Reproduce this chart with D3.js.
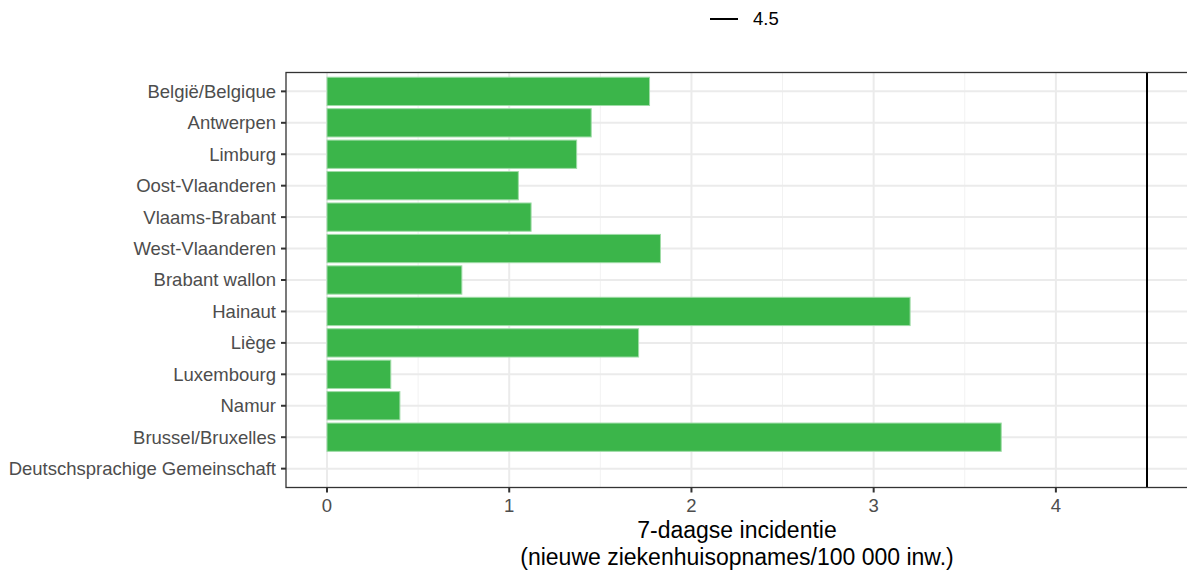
<!DOCTYPE html>
<html>
<head>
<meta charset="utf-8">
<script src="https://cdn.jsdelivr.net/npm/d3@7"></script>
<style>
  body { margin: 0; background: #fff; }
  svg { font-family: "Liberation Sans", Arial, sans-serif; }
</style>
</head>
<body>
<div id="chart"></div>
<script>
// regions, top to bottom
var regions = [
  "België/Belgique", "Antwerpen", "Limburg", "Oost-Vlaanderen", "Vlaams-Brabant",
  "West-Vlaanderen", "Brabant wallon", "Hainaut", "Liège", "Luxembourg",
  "Namur", "Brussel/Bruxelles", "Deutschsprachige Gemeinschaft"
];
// 7-day incidence per region
var incidence = [1.77, 1.45, 1.37, 1.05, 1.12, 1.83, 0.74, 3.20, 1.71, 0.35, 0.40, 3.70, 0];
var xTicks = [0, 1, 2, 3, 4];
var threshold = 4.5;

var W = 1187, H = 571;
var margin = {top: 72.5, right: -1, bottom: 83.5, left: 286};
var width = W - margin.left - margin.right,
    height = H - margin.top - margin.bottom;

var svg = d3.select("#chart").append("svg")
  .attr("width", W)
  .attr("height", H);

var g = svg.append("g")
  .attr("transform", "translate(" + margin.left + "," + margin.top + ")");

// ggplot-style expansion: 5% on continuous, 0.6 on discrete
var xMax = threshold;
var x = d3.scaleLinear()
  .domain([-0.05 * xMax, xMax * 1.05])
  .range([0, width]);

var step = height / (regions.length - 1 + 1.2);
var yc = function(d) { return (regions.indexOf(d) + 0.6) * step; };

// minor grid
var minor = d3.range(-0.5, xMax + 0.5, 0.5).filter(function(v) { return v % 1 !== 0 && x(v) > 0 && x(v) < width; });
g.selectAll(".minor").data(minor).enter().append("line")
  .attr("x1", x).attr("x2", x)
  .attr("y1", 0).attr("y2", height)
  .attr("stroke", "#f2f2f2").attr("stroke-width", 1);

// major grid
g.selectAll(".vmajor").data(xTicks).enter().append("line")
  .attr("x1", x).attr("x2", x)
  .attr("y1", 0).attr("y2", height)
  .attr("stroke", "#ebebeb").attr("stroke-width", 2);

g.selectAll(".hmajor").data(regions).enter().append("line")
  .attr("x1", 0).attr("x2", width)
  .attr("y1", yc).attr("y2", yc)
  .attr("stroke", "#ebebeb").attr("stroke-width", 2);

// bars
var barH = step * 0.9;
g.selectAll(".bar").data(regions).enter().append("rect")
  .attr("x", x(0))
  .attr("y", function(d) { return yc(d) - barH / 2; })
  .attr("width", function(d, i) { return x(incidence[i]) - x(0); })
  .attr("height", barH)
  .attr("fill", "#3bb54a")
  .attr("stroke", "#9fdca7")
  .attr("stroke-width", 1);

// threshold line
g.append("line")
  .attr("x1", x(threshold)).attr("x2", x(threshold))
  .attr("y1", 0).attr("y2", height)
  .attr("stroke", "#000").attr("stroke-width", 2);

// panel border
g.append("rect")
  .attr("x", 0).attr("y", 0)
  .attr("width", width).attr("height", height)
  .attr("fill", "none")
  .attr("stroke", "#333").attr("stroke-width", 1.3);

// y axis ticks + labels
var ya = g.append("g");
ya.selectAll("line").data(regions).enter().append("line")
  .attr("x1", -5).attr("x2", 0)
  .attr("y1", yc).attr("y2", yc)
  .attr("stroke", "#333").attr("stroke-width", 2);
ya.selectAll("text").data(regions).enter().append("text")
  .attr("x", -10)
  .attr("y", yc)
  .attr("dy", "0.35em")
  .attr("text-anchor", "end")
  .attr("font-size", 18.5)
  .attr("fill", "#4d4d4d")
  .text(function(d) { return d; });

// x axis
var xa = g.append("g").attr("transform", "translate(0," + height + ")");
xa.selectAll("line").data(xTicks).enter().append("line")
  .attr("x1", x).attr("x2", x)
  .attr("y1", 0).attr("y2", 5)
  .attr("stroke", "#333").attr("stroke-width", 2);
xa.selectAll("text").data(xTicks).enter().append("text")
  .attr("x", x)
  .attr("y", 24)
  .attr("text-anchor", "middle")
  .attr("font-size", 18.5)
  .attr("fill", "#4d4d4d")
  .text(function(d) { return d; });

// x axis title
var title = g.append("text")
  .attr("text-anchor", "middle")
  .attr("font-size", 23)
  .attr("fill", "#000");
title.append("tspan").attr("x", width / 2).attr("y", height + 50).text("7-daagse incidentie");
title.append("tspan").attr("x", width / 2).attr("y", height + 77).text("(nieuwe ziekenhuisopnames/100 000 inw.)");

// legend
var lg = svg.append("g").attr("transform", "translate(710,19)");
lg.append("line")
  .attr("x1", 0).attr("x2", 28)
  .attr("y1", 0).attr("y2", 0)
  .attr("stroke", "#000").attr("stroke-width", 2);
lg.append("text")
  .attr("x", 43).attr("y", 0)
  .attr("dy", "0.35em")
  .attr("font-size", 18.5)
  .attr("fill", "#000")
  .text(threshold);
</script>
</body>
</html>
